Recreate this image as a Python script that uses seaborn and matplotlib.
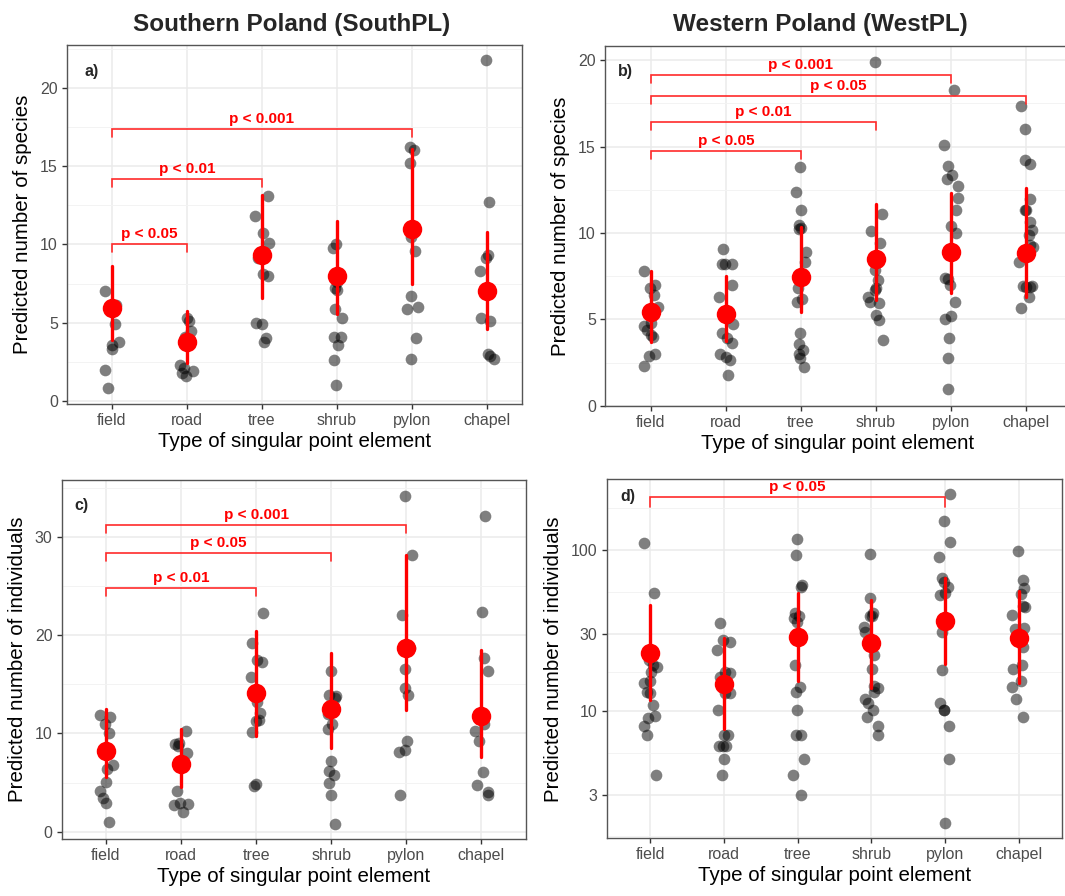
import numpy as np
import pandas as pd
import matplotlib
matplotlib.use("Agg")
import matplotlib.pyplot as plt
from matplotlib.ticker import NullFormatter, FixedLocator
import seaborn as sns

# ---------------------------------------------------------------- data
categories = ["field", "road", "tree", "shrub", "pylon", "chapel"]

# a) species richness, Southern Poland
south_species = [
    [7.0, 6.1, 6.0, 4.9, 3.8, 3.6, 3.3, 2.0, 0.8],
    [5.3, 5.1, 4.5, 4.1, 2.3, 2.1, 1.9, 1.8, 1.6],
    [13.1, 11.8, 10.7, 10.1, 9.1, 8.1, 8.0, 5.0, 4.9, 4.0, 3.8],
    [10.0, 9.8, 7.6, 7.2, 7.1, 5.9, 5.3, 4.1, 4.1, 3.6, 2.6, 1.0],
    [16.2, 16.0, 15.2, 10.5, 9.6, 6.7, 6.0, 5.9, 4.0, 2.7],
    [21.8, 12.7, 9.3, 9.1, 8.3, 5.3, 5.1, 3.0, 2.9, 2.7],
]
south_species_mean = [5.92, 3.75, 9.3, 8.0, 11.0, 7.05]
south_species_lo = [3.9, 2.4, 6.6, 5.56, 7.45, 4.6]
south_species_hi = [8.62, 5.75, 13.15, 11.5, 16.1, 10.8]
south_species_tests = [
    ("field", "road", 10.03, "p < 0.05"),
    ("field", "tree", 14.2, "p < 0.01"),
    ("field", "pylon", 17.37, "p < 0.001"),
]

# b) species richness, Western Poland
west_species = [
    [7.8, 7.0, 6.8, 6.4, 5.7, 5.35, 4.8, 4.6, 4.4, 4.1, 4.0, 3.0, 2.9, 2.3],
    [9.05, 8.2, 8.2, 8.2, 7.0, 6.3, 5.1, 4.7, 4.2, 3.9, 3.65, 3.0, 2.8, 2.65, 1.8],
    [13.8, 12.35, 11.3, 10.45, 10.3, 10.2, 8.9, 8.3, 6.8, 6.2, 6.0, 4.2, 3.6,
     3.2, 3.0, 2.75, 2.25],
    [19.9, 11.1, 10.1, 9.4, 8.3, 7.85, 7.3, 6.8, 6.7, 6.3, 6.0, 5.95, 5.25,
     4.95, 3.8],
    [18.3, 15.1, 13.9, 13.35, 13.1, 12.7, 12.05, 11.35, 10.4, 10.0, 7.4, 7.35,
     7.0, 6.0, 5.2, 5.0, 3.9, 2.75, 0.95],
    [17.35, 16.0, 14.25, 14.0, 11.95, 11.35, 11.3, 10.65, 10.15, 9.9, 9.3, 9.2,
     8.3, 6.9, 6.9, 6.85, 6.85, 6.3, 5.65],
]
west_species_mean = [5.44, 5.3, 7.47, 8.47, 8.91, 8.86]
west_species_lo = [3.7, 3.74, 5.44, 6.12, 6.5, 6.31]
west_species_hi = [7.8, 7.52, 10.36, 11.67, 12.29, 12.62]
west_species_tests = [
    ("field", "pylon", 19.13, "p < 0.001"),
    ("field", "chapel", 17.92, "p < 0.05"),
    ("field", "shrub", 16.4, "p < 0.01"),
    ("field", "tree", 14.74, "p < 0.05"),
]

# c) abundance, Southern Poland
south_indiv = [
    [11.9, 11.7, 11.0, 10.0, 6.8, 6.35, 5.1, 4.1, 3.4, 2.95, 1.0],
    [10.2, 9.0, 8.9, 8.7, 8.0, 4.1, 2.9, 2.8, 2.7, 2.0],
    [22.3, 19.2, 17.5, 17.3, 15.7, 13.2, 12.1, 11.4, 11.3, 10.1, 4.9, 4.7],
    [16.35, 13.9, 13.8, 13.6, 12.0, 11.0, 10.4, 7.2, 6.2, 5.8, 5.0, 3.7, 0.8],
    [34.2, 28.2, 22.0, 18.7, 16.6, 14.6, 13.9, 9.2, 8.3, 8.1, 3.7],
    [32.1, 22.4, 17.7, 16.3, 11.0, 10.2, 9.2, 6.1, 4.8, 4.0, 3.7],
]
south_indiv_mean = [8.24, 6.85, 14.08, 12.45, 18.66, 11.77]
south_indiv_lo = [5.6, 4.58, 9.7, 8.48, 12.38, 7.56]
south_indiv_hi = [12.45, 10.41, 20.42, 18.21, 28.15, 18.48]
south_indiv_tests = [
    ("field", "pylon", 31.2, "p < 0.001"),
    ("field", "shrub", 28.32, "p < 0.05"),
    ("field", "tree", 24.76, "p < 0.01"),
]

# d) abundance, Western Poland (log scale)
west_indiv = [
    [110, 53.8, 20.7, 19.2, 18.8, 17.5, 15.2, 14.8, 13.1, 12.9, 10.85, 9.2,
     9.0, 8.0, 7.1, 4.0],
    [35.0, 27.5, 26.9, 23.9, 17.5, 17.1, 16.3, 12.9, 12.9, 10.1, 7.1, 7.1,
     6.0, 6.0, 6.0, 5.0, 4.0],
    [116.5, 93, 60.6, 59.1, 40.4, 38.8, 37.6, 35.8, 19.2, 14.1, 13.1, 10.1,
     7.1, 7.1, 5.0, 4.0, 3.0],
    [94, 50.1, 40.7, 38.8, 38.8, 33.3, 31.0, 22.2, 18.1, 14.2, 13.8, 13.1,
     11.9, 11.1, 10.1, 9.1, 8.0, 7.1],
    [222, 152, 112.7, 90, 66.7, 63.5, 59.1, 53.8, 52.5, 37.6, 31.0, 17.9,
     11.1, 10.1, 10.1, 8.0, 5.0, 2.0],
    [99, 65.1, 57.7, 53.2, 44.8, 44.4, 39.4, 32.5, 32.1, 28.2, 25.0, 19.2,
     18.1, 15.2, 14.1, 11.9, 9.1],
]
west_indiv_mean = [22.96, 14.6, 28.6, 26.3, 36.2, 28.2]
west_indiv_lo = [11.66, 7.66, 15.4, 13.8, 19.5, 14.8]
west_indiv_hi = [45.5, 28.2, 53.8, 48.9, 66.7, 55.8]
west_indiv_tests = [
    ("field", "pylon", 214.6, "p < 0.05"),
]

XLABEL = "Type of singular point element"
TEXT_GREY = "#4D4D4D"
RED = "#FF0000"

# ---------------------------------------------------------------- style
sns.set_style("white")
plt.rcParams["font.family"] = ["Liberation Sans", "DejaVu Sans"]

W, H = 1065, 896
fig = plt.figure(figsize=(W / 100, H / 100), dpi=100)


def px_axes(left, right, top, bottom):
    return fig.add_axes([left / W, 1 - bottom / H, (right - left) / W,
                         (bottom - top) / H])


def long_points(values):
    return pd.DataFrame({
        "element": [c for c, vals in zip(categories, values) for _ in vals],
        "value": [v for vals in values for v in vals],
    })


def long_summary(mean, lo, hi):
    rows = []
    for c, m, l, h in zip(categories, mean, lo, hi):
        rows += [(c, l), (c, m), (c, h)]
    return pd.DataFrame(rows, columns=["element", "value"])


def draw_tests(ax, tests, tip=0.022):
    to_axes = ax.transData + ax.transAxes.inverted()
    trans = ax.get_xaxis_transform()
    for a, b, level, label in tests:
        x0, x1 = categories.index(a), categories.index(b)
        ya = to_axes.transform((0, level))[1]
        ax.plot([x0, x0, x1, x1], [ya - tip, ya, ya, ya - tip],
                transform=trans, color="#FF2A2A", lw=1.2, zorder=4,
                solid_joinstyle="miter")
        ax.text((x0 + x1) / 2, ya + 0.008, label, transform=trans,
                ha="center", va="bottom", color=RED, fontweight="bold",
                fontsize=11, zorder=5)


def draw_panel(ax, values, mean, lo, hi, tests, xlim, ylim, yticks,
               minor, ylabel, tag, tag_pos, log=False, tip=0.022):
    if log:
        ax.set_yscale("log")
    np.random.seed(7)
    sns.stripplot(data=long_points(values), x="element", y="value",
                  order=categories, color="black", alpha=0.5, size=8.4,
                  jitter=0.1, linewidth=0, ax=ax, zorder=2)
    sns.pointplot(data=long_summary(mean, lo, hi), x="element", y="value",
                  order=categories, estimator=np.median,
                  errorbar=lambda v: (np.min(v), np.max(v)),
                  color=RED, markersize=12, linestyle="none",
                  err_kws={"linewidth": 2.4}, ax=ax, zorder=3)

    ax.set_xlim(*xlim)
    ax.set_ylim(*ylim)
    ax.set_yticks(yticks)
    ax.set_yticklabels([f"{t:g}" for t in yticks])
    ax.yaxis.set_minor_locator(FixedLocator(minor))
    ax.yaxis.set_minor_formatter(NullFormatter())
    ax.set_axisbelow(True)
    ax.grid(which="major", color="#EBEBEB", lw=1.1)
    ax.grid(which="minor", axis="y", color="#F3F3F3", lw=0.7)
    ax.tick_params(which="major", length=3.5, width=1, color="#333333",
                   labelcolor=TEXT_GREY, labelsize=11.5, pad=3,
                   left=True, bottom=True)
    ax.tick_params(which="minor", length=0)
    for sp in ax.spines.values():
        sp.set_color("#555555")
        sp.set_linewidth(1.0)
    ax.set_xlabel(XLABEL, fontsize=14.8, color="black", labelpad=3)
    ax.set_ylabel(ylabel, fontsize=14.8, color="black", labelpad=6)
    ax.text(tag_pos[0], tag_pos[1], tag, transform=ax.transAxes,
            ha="center", va="center", fontsize=11.5, fontweight="bold")
    draw_tests(ax, tests, tip)


ax_a = px_axes(67, 521.7, 45, 404)
ax_b = px_axes(605, 1071, 46, 405.7)
ax_c = px_axes(61.7, 525.7, 480, 839.3)
ax_d = px_axes(606.7, 1062, 479.3, 838.3)

draw_panel(ax_a, south_species, south_species_mean, south_species_lo,
           south_species_hi, south_species_tests,
           xlim=(-0.595, 5.46), ylim=(-0.19, 22.73),
           yticks=[0, 5, 10, 15, 20], minor=[2.5, 7.5, 12.5, 17.5, 22.5],
           ylabel="Predicted number of species", tag="a)",
           tag_pos=(0.055, 0.925))

draw_panel(ax_b, west_species, west_species_mean, west_species_lo,
           west_species_hi, west_species_tests,
           xlim=(-0.61, 5.6), ylim=(0, 20.82),
           yticks=[0, 5, 10, 15, 20], minor=[2.5, 7.5, 12.5, 17.5],
           ylabel="Predicted number of species", tag="b)",
           tag_pos=(0.043, 0.929))

draw_panel(ax_c, south_indiv, south_indiv_mean, south_indiv_lo,
           south_indiv_hi, south_indiv_tests,
           xlim=(-0.59, 5.59), ylim=(-0.77, 35.78),
           yticks=[0, 10, 20, 30], minor=[5, 15, 25, 35],
           ylabel="Predicted number of individuals", tag="c)",
           tag_pos=(0.043, 0.93))

draw_panel(ax_d, west_indiv, west_indiv_mean, west_indiv_lo,
           west_indiv_hi, west_indiv_tests,
           xlim=(-0.59, 5.59), ylim=(1.607, 275),
           yticks=[3, 10, 30, 100],
           minor=[1.65, 5.48, 17.3, 54.8, 182.6],
           ylabel="Predicted number of individuals", tag="d)",
           tag_pos=(0.047, 0.952), log=True, tip=0.03)

fig.text(292 / W, 1 - 24 / H, "Southern Poland (SouthPL)", ha="center",
         va="center", fontsize=17.5, fontweight="bold")
fig.text(820 / W, 1 - 24 / H, "Western Poland (WestPL)", ha="center",
         va="center", fontsize=17.5, fontweight="bold")

fig.savefig("out.png", dpi=100, facecolor="white")
